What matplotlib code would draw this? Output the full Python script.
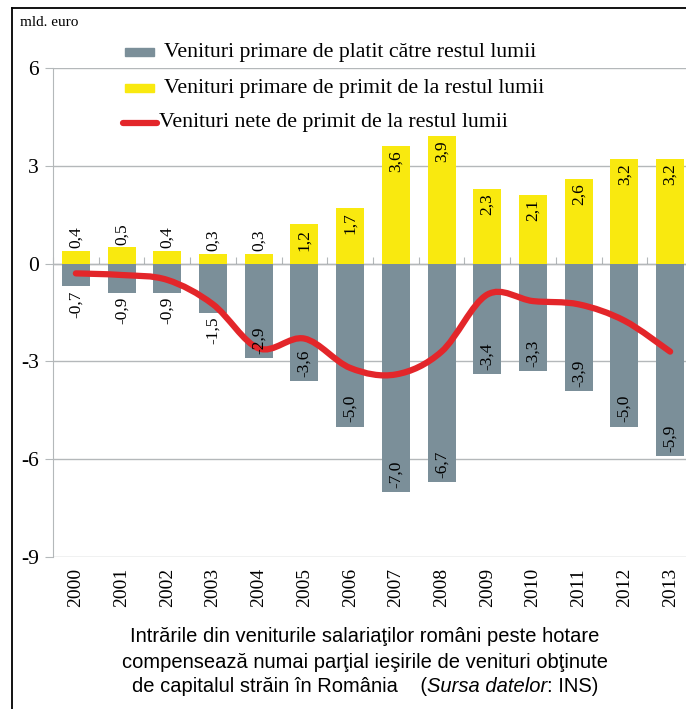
import matplotlib.pyplot as plt
import numpy as np
from matplotlib.path import Path
from matplotlib.patches import PathPatch, Rectangle
from matplotlib.lines import Line2D

years = ["2000", "2001", "2002", "2003", "2004", "2005", "2006",
         "2007", "2008", "2009", "2010", "2011", "2012", "2013"]
de_primit = [0.4, 0.5, 0.4, 0.3, 0.3, 1.2, 1.7, 3.6, 3.9, 2.3, 2.1, 2.6, 3.2, 3.2]
de_platit = [-0.7, -0.9, -0.9, -1.5, -2.9, -3.6, -5.0, -7.0, -6.7, -3.4, -3.3, -3.9, -5.0, -5.9]
nete = [-0.3, -0.35, -0.5, -1.25, -2.6, -2.3, -3.2, -3.4, -2.7, -0.95, -1.15, -1.25, -1.75, -2.7]
yticks = [6, 3, 0, -3, -6, -9]
legend_labels = ["Venituri primare de platit către restul lumii",
                 "Venituri primare de primit de la restul lumii",
                 "Venituri nete de primit de la restul lumii"]

GRAY = "#7b8f99"
YELLOW = "#f9e90f"
RED = "#e3262a"
GRID = "#b4b8ba"
SERIF = "Liberation Serif"
W, H = 686, 709

fig = plt.figure(figsize=(6.86, 7.09), dpi=100)
ax = fig.add_axes([53 / W, 1 - 557 / H, 640 / W, (557 - 68) / H])

x = np.arange(len(years))
ax.bar(x, de_platit, width=0.61, color=GRAY, zorder=2)
ax.bar(x, de_primit, width=0.61, color=YELLOW, zorder=2)


def smooth_path(xs, ys):
    # excel-like smoothed line: catmull-rom -> cubic bezier
    pts = np.column_stack([xs, ys]).astype(float)
    verts = [pts[0]]
    codes = [Path.MOVETO]
    n = len(pts)
    for i in range(n - 1):
        p0 = pts[i - 1] if i > 0 else pts[i]
        p1 = pts[i]
        p2 = pts[i + 1]
        p3 = pts[i + 2] if i + 2 < n else pts[i + 1]
        c1 = p1 + (p2 - p0) / 6
        c2 = p2 - (p3 - p1) / 6
        verts += [c1, c2, p2]
        codes += [Path.CURVE4] * 3
    return Path(verts, codes)


ax.add_patch(PathPatch(smooth_path(x, nete), fill=False, edgecolor=RED,
                       lw=4.5, capstyle="round", zorder=4))

# value labels
LBL = dict(rotation=90, ha="center", fontsize=12.5, family=SERIF, zorder=5,
           textcoords="offset points")
for xi, v in zip(x, de_primit):
    lab = f"{v:.1f}".replace(".", ",")
    if v >= 1.0:
        ax.annotate(lab, (xi, v), xytext=(0, -3), va="top", **LBL)
    else:
        ax.annotate(lab, (xi, v), xytext=(0, 2), va="bottom", **LBL)
for xi, v in zip(x, de_platit):
    lab = f"{v:.1f}".replace(".", ",")
    if v <= -2.0:
        ax.annotate(lab, (xi, v), xytext=(0, 3), va="bottom", **LBL)
    else:
        ax.annotate(lab, (xi, v), xytext=(0, -3), va="top", **LBL)

ax.set_xlim(-0.5, len(years) - 0.5)
ax.set_ylim(-9, 6)
ax.set_yticks(yticks)
ax.set_yticklabels([str(t) for t in yticks], family=SERIF, fontsize=15.5)
ax.set_xticks(x)
ax.set_xticklabels(years, rotation=90, family=SERIF, fontsize=14)
ax.tick_params(axis="x", length=0, pad=8)
ax.tick_params(axis="y", length=6, color=GRID, pad=4)
ax.grid(axis="y", color=GRID, lw=1, zorder=0)
ax.set_axisbelow(True)
for s in ["top", "right", "bottom"]:
    ax.spines[s].set_visible(False)
ax.spines["left"].set_color(GRID)

# small tick marks on the zero line between categories
sec = ax.secondary_xaxis(9 / 15)
sec.set_xticks(np.arange(len(years) + 1) - 0.5)
sec.set_xticklabels([])
sec.tick_params(length=5, color=GRID, direction="out")
sec.spines["bottom"].set_visible(False)

fig.text(20 / W, 1 - 22 / H, "mld. euro", family=SERIF, fontsize=11, va="center")

# legend, drawn by hand to get the spacing of the original
rows_y = [52, 88, 123]
fig.add_artist(Rectangle((125 / W, 1 - 56 / H), 29 / W, 8 / H, color=GRAY))
fig.add_artist(Rectangle((125 / W, 1 - 92 / H), 29 / W, 8 / H, color=YELLOW))
fig.add_artist(Line2D([123 / W, 157 / W], [1 - 123 / H, 1 - 123 / H], color=RED,
                      lw=4.5, solid_capstyle="round"))
for lab, ry, lx in zip(legend_labels, rows_y, [164, 164, 159]):
    fig.text(lx / W, 1 - ry / H, lab, family=SERIF, fontsize=15.7, va="center")

# caption
CAP = "Liberation Sans"
fig.text(0.532, 1 - 637 / H, "Intrările din veniturile salariaţilor români peste hotare",
         ha="center", va="center", family=CAP, fontsize=14.5)
fig.text(0.532, 1 - 662 / H, "compensează numai parţial ieşirile de venituri obţinute",
         ha="center", va="center", family=CAP, fontsize=14.5)
parts = [("de capitalul străin în România    (", "normal"),
         ("Sursa datelor", "italic"), (": INS)", "normal")]
texts = [fig.text(0, 1 - 687 / H, p, va="center", family=CAP, fontsize=14.5, style=st)
         for p, st in parts]
r = fig.canvas.get_renderer()
widths = [t.get_window_extent(r).width / fig.bbox.width for t in texts]
start = 0.532 - sum(widths) / 2
for t, w in zip(texts, widths):
    t.set_x(start)
    start += w

# outer frame (left and top)
fig.add_artist(Line2D([12 / W, 12 / W], [0, 1 - 8 / H], color="black", lw=1.3))
fig.add_artist(Line2D([12 / W, 1], [1 - 8 / H, 1 - 8 / H], color="black", lw=1.3))

fig.savefig("out.png", dpi=100)
